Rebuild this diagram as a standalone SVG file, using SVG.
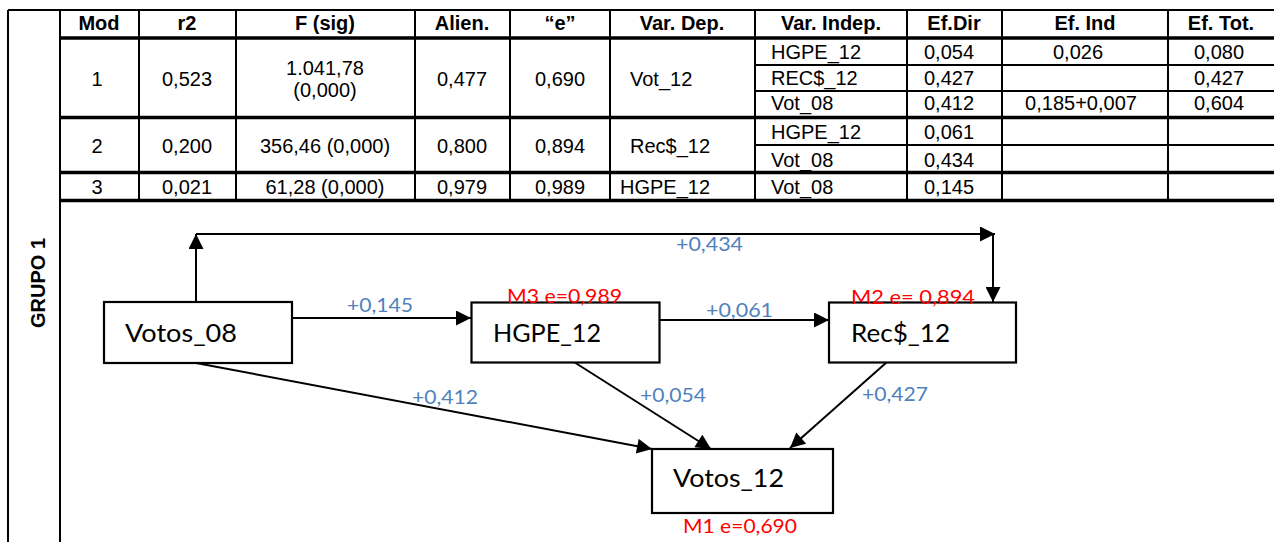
<svg xmlns="http://www.w3.org/2000/svg" width="1274" height="542" viewBox="0 0 1274 542">
  <style>
    .bg { fill: #ffffff; }
    .grid { stroke: #000; stroke-width: 2; fill: none; }
    .thick { stroke: #000; stroke-width: 3.5; fill: none; }
    .th { font-family: "Liberation Sans", Arial, sans-serif; font-weight: bold; font-size: 20px; text-anchor: middle; fill: #000; }
    .td { font-family: "Liberation Sans", Arial, sans-serif; font-size: 20px; fill: #000; }
    .c { text-anchor: middle; }
    .box { fill: #fff; stroke: #000; stroke-width: 2.2; }
    .name { font-family: Lato, "Open Sans", sans-serif; font-size: 25px; fill: #000; }
    .coef { font-family: Lato, "Open Sans", sans-serif; font-size: 20px; fill: #4f81bd; }
    .err { font-family: Lato, "Open Sans", sans-serif; font-size: 20px; fill: #ff0000; }
    .edge { stroke: #000; stroke-width: 2; fill: none; }
  </style>
  <defs>
    <marker id="arrow" viewBox="0 0 10 10" refX="10" refY="5" markerWidth="16" markerHeight="15" markerUnits="userSpaceOnUse" orient="auto">
      <path d="M0,0 L10,5 L0,10 z" fill="#000"/>
    </marker>
  </defs>

  <rect class="bg" x="0" y="0" width="1274" height="542"/>

  <!-- frame and grid of the results table -->
  <g id="table-grid">
    <line class="grid" x1="8" y1="10" x2="1274" y2="10"/>
    <line class="grid" x1="8" y1="10" x2="8" y2="542"/>
    <line class="grid" x1="60" y1="10" x2="60" y2="542"/>
    <line class="thick" x1="60" y1="38" x2="1274" y2="38"/>
    <line class="thick" x1="60" y1="117.5" x2="1274" y2="117.5"/>
    <line class="thick" x1="60" y1="172.5" x2="1274" y2="172.5"/>
    <line class="thick" x1="60" y1="200.5" x2="1274" y2="200.5"/>
    <line class="grid" x1="755" y1="65" x2="1274" y2="65"/>
    <line class="grid" x1="755" y1="91" x2="1274" y2="91"/>
    <line class="grid" x1="755" y1="145" x2="1274" y2="145"/>
    <line class="grid" x1="139" y1="10" x2="139" y2="200"/>
    <line class="grid" x1="236" y1="10" x2="236" y2="200"/>
    <line class="grid" x1="415" y1="10" x2="415" y2="200"/>
    <line class="grid" x1="510" y1="10" x2="510" y2="200"/>
    <line class="grid" x1="610" y1="10" x2="610" y2="200"/>
    <line class="grid" x1="755" y1="10" x2="755" y2="200"/>
    <line class="grid" x1="907" y1="10" x2="907" y2="200"/>
    <line class="grid" x1="1002" y1="10" x2="1002" y2="200"/>
    <line class="grid" x1="1168" y1="10" x2="1168" y2="200"/>
  </g>

  <!-- group label -->
  <text class="th" transform="translate(45,283) rotate(-90)" font-size="18">GRUPO 1</text>

  <!-- header row -->
  <g id="table-header">
    <text class="th" x="99" y="30">Mod</text>
    <text class="th" x="187" y="30">r2</text>
    <text class="th" x="325" y="30">F (sig)</text>
    <text class="th" x="462" y="30">Alien.</text>
    <text class="th" x="560" y="30">“e”</text>
    <text class="th" x="682" y="30">Var. Dep.</text>
    <text class="th" x="831" y="30">Var. Indep.</text>
    <text class="th" x="954" y="30">Ef.Dir</text>
    <text class="th" x="1085" y="30">Ef. Ind</text>
    <text class="th" x="1221" y="30">Ef. Tot.</text>
  </g>

  <!-- model 1 -->
  <g id="table-row-1">
    <text class="td c" x="97" y="86">1</text>
    <text class="td c" x="187" y="86">0,523</text>
    <text class="td c" x="325" y="75">1.041,78</text>
    <text class="td c" x="325" y="97">(0,000)</text>
    <text class="td c" x="462" y="86">0,477</text>
    <text class="td c" x="560" y="86">0,690</text>
    <text class="td" x="630" y="86">Vot_12</text>
    <text class="td" x="771" y="59">HGPE_12</text>
    <text class="td" x="771" y="84.5">REC$_12</text>
    <text class="td" x="771" y="110">Vot_08</text>
    <text class="td" x="924" y="59">0,054</text>
    <text class="td" x="924" y="84.5">0,427</text>
    <text class="td" x="924" y="110">0,412</text>
    <text class="td c" x="1078" y="59">0,026</text>
    <text class="td c" x="1081" y="110">0,185+0,007</text>
    <text class="td c" x="1219" y="59">0,080</text>
    <text class="td c" x="1219" y="84.5">0,427</text>
    <text class="td c" x="1219" y="110">0,604</text>
  </g>

  <!-- model 2 -->
  <g id="table-row-2">
    <text class="td c" x="97" y="153">2</text>
    <text class="td c" x="187" y="153">0,200</text>
    <text class="td c" x="325" y="153">356,46 (0,000)</text>
    <text class="td c" x="462" y="153">0,800</text>
    <text class="td c" x="560" y="153">0,894</text>
    <text class="td" x="630" y="153">Rec$_12</text>
    <text class="td" x="771" y="139">HGPE_12</text>
    <text class="td" x="771" y="166.5">Vot_08</text>
    <text class="td" x="924" y="139">0,061</text>
    <text class="td" x="924" y="166.5">0,434</text>
  </g>

  <!-- model 3 -->
  <g id="table-row-3">
    <text class="td c" x="97" y="193.5">3</text>
    <text class="td c" x="187" y="193.5">0,021</text>
    <text class="td c" x="325" y="193.5">61,28 (0,000)</text>
    <text class="td c" x="462" y="193.5">0,979</text>
    <text class="td c" x="560" y="193.5">0,989</text>
    <text class="td" x="620" y="193.5">HGPE_12</text>
    <text class="td" x="771" y="193.5">Vot_08</text>
    <text class="td" x="924" y="193.5">0,145</text>
  </g>

  <!-- path diagram connectors -->
  <g id="connectors">
    <line class="edge" x1="292" y1="318" x2="471" y2="318" marker-end="url(#arrow)"/>
    <line class="edge" x1="656" y1="320" x2="829" y2="320" marker-end="url(#arrow)"/>
    <line class="edge" x1="196" y1="302" x2="196" y2="234" marker-end="url(#arrow)"/>
    <line class="edge" x1="196" y1="234" x2="995" y2="234" marker-end="url(#arrow)"/>
    <line class="edge" x1="993" y1="234" x2="993" y2="302" marker-end="url(#arrow)"/>
    <line class="edge" x1="196" y1="363" x2="652" y2="449" marker-end="url(#arrow)"/>
    <line class="edge" x1="574" y1="362" x2="711" y2="449" marker-end="url(#arrow)"/>
    <line class="edge" x1="887" y1="362" x2="790" y2="448" marker-end="url(#arrow)"/>
  </g>

  <!-- coefficient labels -->
  <g id="coefficients">
    <text class="coef" x="676" y="251" textLength="67" lengthAdjust="spacingAndGlyphs">+0,434</text>
    <text class="coef" x="347" y="312" textLength="66" lengthAdjust="spacingAndGlyphs">+0,145</text>
    <text class="coef" x="706" y="317" textLength="67" lengthAdjust="spacingAndGlyphs">+0,061</text>
    <text class="coef" x="412" y="404" textLength="66" lengthAdjust="spacingAndGlyphs">+0,412</text>
    <text class="coef" x="640" y="402" textLength="66" lengthAdjust="spacingAndGlyphs">+0,054</text>
    <text class="coef" x="862" y="401" textLength="66" lengthAdjust="spacingAndGlyphs">+0,427</text>
  </g>

  <g id="node-votos08">
    <rect class="box" x="104" y="302" width="188" height="61"/>
    <text class="name" x="125" y="342" textLength="112" lengthAdjust="spacingAndGlyphs">Votos_08</text>
  </g>

  <g id="node-hgpe12">
    <rect class="box" x="471.5" y="302.5" width="188" height="60"/>
    <text class="name" x="493" y="342" textLength="108" lengthAdjust="spacingAndGlyphs">HGPE_12</text>
    <text class="err" x="507" y="303" textLength="115" lengthAdjust="spacingAndGlyphs">M3 e=0,989</text>
  </g>

  <g id="node-rec12">
    <rect class="box" x="829" y="302.5" width="187" height="60"/>
    <text class="name" x="851" y="342" textLength="99" lengthAdjust="spacingAndGlyphs">Rec$_12</text>
    <text class="err" x="851" y="304" textLength="124" lengthAdjust="spacingAndGlyphs">M2 e= 0,894</text>
  </g>

  <g id="node-votos12">
    <rect class="box" x="652" y="449" width="181" height="64"/>
    <text class="name" x="673" y="487" textLength="111" lengthAdjust="spacingAndGlyphs">Votos_12</text>
    <text class="err" x="683" y="533" textLength="114" lengthAdjust="spacingAndGlyphs">M1 e=0,690</text>
  </g>
</svg>
